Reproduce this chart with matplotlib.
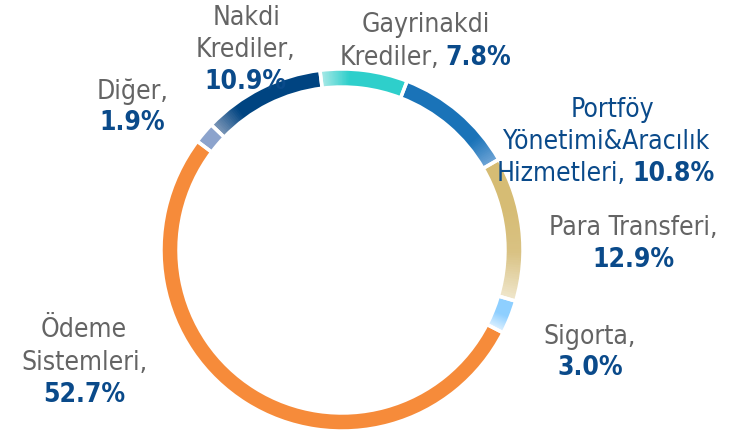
import matplotlib.pyplot as plt
import numpy as np
from matplotlib.patches import Wedge
from matplotlib.colors import LinearSegmentedColormap

labels = ["Gayrinakdi Krediler", "Portföy Yönetimi&Aracılık Hizmetleri",
          "Para Transferi", "Sigorta", "Ödeme Sistemleri", "Diğer", "Nakdi Krediler"]
shares = [7.8, 10.8, 12.9, 3.0, 52.7, 1.9, 10.9]
pct_text = ["7.8%", "10.8%", "12.9%", "3.0%", "52.7%", "1.9%", "10.9%"]

# colour stops along each slice, clockwise
stops = [
    ["#a8e9e7", "#2ecfcb", "#2ecfcb", "#2ecfcb"],
    ["#1a73b8", "#1a73b8", "#1a73b8", "#1a73b8", "#6ea4d6"],
    ["#d6bc74", "#d6bc74", "#d9c283", "#efe6cb"],
    ["#8ecfff", "#8ecfff", "#dff2ff"],
    ["#f68b3a", "#f68b3a"],
    ["#8ca3cc", "#8ca3cc"],
    ["#7d97b8", "#004481", "#004481", "#004481", "#004481"],
]

GRAY = "#646464"
BLUE = "#0a4a8a"
plt.rcParams['font.family'] = ['DejaVu Sans']

W, H = 742, 437
fig = plt.figure(figsize=(W / 100, H / 100), dpi=100)
ax = fig.add_axes([0, 0, 1, 1])

cx, cy, R, ring = 342, H - 250, 181, 18
wedges, _ = ax.pie(shares, startangle=97, counterclock=False, radius=R,
                   center=(cx, cy), wedgeprops=dict(width=ring, edgecolor="white", linewidth=2.5))

# gradient fill: stacked sub-wedges under the white-edged pie outline
for w, st in zip(wedges, stops):
    cmap = LinearSegmentedColormap.from_list("s", st)
    t1, t2 = w.theta1, w.theta2
    n = 60
    edges = np.linspace(t2, t1, n + 1)
    for i in range(n):
        ax.add_patch(Wedge((cx, cy), R, t1, edges[i], width=ring,
                           color=cmap(i / (n - 1)), lw=0, zorder=1))
    w.set_facecolor("none")
    w.set_zorder(3)

fs = 19


def y(p):
    return H - p


def txt(x, yp, s, color=GRAY, bold=False, ha="center"):
    ax.text(x, y(yp), s, color=color, fontsize=fs, ha=ha, va="center", fontstretch="condensed",
            fontweight="bold" if bold else "normal", zorder=5)


txt(426, 25, "Gayrinakdi")
txt(439, 58, "Krediler,", ha="right")
txt(445, 58, pct_text[0], BLUE, True, ha="left")
txt(612, 110, "Portföy", BLUE)
txt(606, 142, "Yönetimi&Aracılık", BLUE)
txt(626, 174, "Hizmetleri,", BLUE, ha="right")
txt(632, 174, pct_text[1], BLUE, True, ha="left")
txt(633, 228, "Para Transferi,")
txt(633, 260, pct_text[2], BLUE, True)
txt(590, 337, "Sigorta,")
txt(590, 368, pct_text[3], BLUE, True)
txt(84, 330, "Ödeme")
txt(84, 363, "Sistemleri,")
txt(84, 395, pct_text[4], BLUE, True)
txt(133, 92, "Diğer,")
txt(132, 123, pct_text[5], BLUE, True)
txt(247, 18, "Nakdi")
txt(245, 50, "Krediler,")
txt(245, 82, pct_text[6], BLUE, True)

ax.set_xlim(0, W)
ax.set_ylim(0, H)
ax.set_aspect("auto")
ax.axis("off")
fig.savefig("out.png", dpi=100)
